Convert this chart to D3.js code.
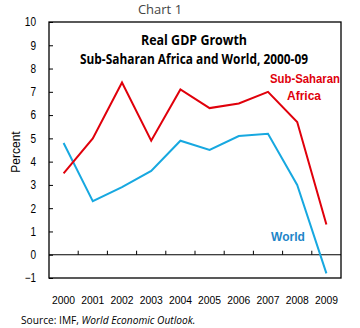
<!DOCTYPE html>
<html>
<head>
<meta charset="utf-8">
<script src="https://cdn.jsdelivr.net/npm/d3@7"></script>
<style>
  html, body { margin: 0; padding: 0; background: #fff; }
  svg { display: block; }
</style>
</head>
<body>
<script>
// Real GDP growth, percent
const years = ["2000","2001","2002","2003","2004","2005","2006","2007","2008","2009"];
const ssaGrowth = [3.5, 5.0, 7.4, 4.9, 7.1, 6.3, 6.5, 7.0, 5.7, 1.3];
const worldGrowth = [4.8, 2.3, 2.9, 3.6, 4.9, 4.5, 5.1, 5.2, 3.0, -0.8];
const yTicks = [-1, 0, 1, 2, 3, 4, 5, 6, 7, 8, 9, 10];

const W = 360, H = 328;
const m = { left: 49, right: 19, top: 22, bottom: 50 };
const iw = W - m.left - m.right, ih = H - m.top - m.bottom;

const svg = d3.select("body").append("svg").attr("width", W).attr("height", H)
  .style("font-family", "'Liberation Sans', Arial, sans-serif");

const x = d3.scaleBand().domain(years).range([m.left, m.left + iw]);
const y = d3.scaleLinear().domain([-1, 10]).range([m.top + ih, m.top]);
const cx = d => x(d) + x.bandwidth() / 2;

// frame
svg.append("rect").attr("x", m.left).attr("y", m.top).attr("width", iw).attr("height", ih)
  .attr("fill", "none").attr("stroke", "#000").attr("stroke-width", 1.3);

// y axis with inward ticks, narrow numerals
const yAxis = svg.append("g").attr("transform", `translate(${m.left},0)`)
  .call(d3.axisRight(y).tickValues(yTicks).tickSize(4).tickFormat(d3.format("d")));
yAxis.select(".domain").remove();
yAxis.selectAll("line").attr("stroke", "#000");
yAxis.selectAll("text").attr("x", -13).attr("text-anchor", "end")
  .attr("font-size", 12).attr("fill", "#000").attr("font-family", "'Liberation Sans', Arial, sans-serif")
  .attr("textLength", d => String(d).length * 5.6).attr("lengthAdjust", "spacingAndGlyphs");

// zero line with category boundary ticks
svg.append("line").attr("x1", m.left).attr("x2", m.left + iw)
  .attr("y1", y(0)).attr("y2", y(0)).attr("stroke", "#000").attr("stroke-width", 1.2);
svg.append("g").selectAll("line").data(years.slice(1)).join("line")
  .attr("x1", d => x(d)).attr("x2", d => x(d))
  .attr("y1", y(0)).attr("y2", y(0) - 4).attr("stroke", "#000");

// year labels
svg.append("g").selectAll("text").data(years).join("text")
  .attr("x", d => cx(d)).attr("y", m.top + ih + 26)
  .attr("text-anchor", "middle").attr("font-size", 11.5).attr("fill", "#000")
  .attr("textLength", 23).attr("lengthAdjust", "spacingAndGlyphs")
  .text(d => d);

// series lines
const line = d3.line().x((d, i) => cx(years[i])).y(d => y(d));
svg.append("path").datum(worldGrowth).attr("d", line)
  .attr("fill", "none").attr("stroke", "#17a8e0").attr("stroke-width", 2);
svg.append("path").datum(ssaGrowth).attr("d", line)
  .attr("fill", "none").attr("stroke", "#e0000b").attr("stroke-width", 2);

// titles
svg.append("text").attr("x", 160).attr("y", 14).attr("text-anchor", "middle")
  .attr("font-size", 13).attr("fill", "#444").attr("font-family", "'Open Sans', sans-serif")
  .text("Chart 1");
svg.append("text").attr("x", 194).attr("y", 45).attr("text-anchor", "middle")
  .attr("font-size", 13.5).attr("font-weight", "bold").attr("fill", "#000")
  .attr("font-family", "'Open Sans', sans-serif").attr("textLength", 106).attr("lengthAdjust", "spacingAndGlyphs")
  .text("Real GDP Growth");
svg.append("text").attr("x", 194).attr("y", 64).attr("text-anchor", "middle")
  .attr("font-size", 13.5).attr("font-weight", "bold").attr("fill", "#000")
  .attr("font-family", "'Open Sans', sans-serif").attr("textLength", 228).attr("lengthAdjust", "spacingAndGlyphs")
  .text("Sub-Saharan Africa and World, 2000-09");

// series labels
svg.append("text").attr("x", 305).attr("y", 83).attr("text-anchor", "middle")
  .attr("font-size", 12).attr("font-weight", "bold").attr("fill", "#e0000b")
  .attr("textLength", 70).attr("lengthAdjust", "spacingAndGlyphs")
  .text("Sub-Saharan");
svg.append("text").attr("x", 304).attr("y", 100).attr("text-anchor", "middle")
  .attr("font-size", 12).attr("font-weight", "bold").attr("fill", "#e0000b")
  .text("Africa");
svg.append("text").attr("x", 288).attr("y", 241).attr("text-anchor", "middle")
  .attr("font-size", 12).attr("font-weight", "bold").attr("fill", "#1f86c8")
  .text("World");

// y axis title
svg.append("text").attr("transform", `translate(20,152) rotate(-90)`)
  .attr("text-anchor", "middle").attr("font-size", 12).attr("fill", "#000")
  .text("Percent");

// source note
const src = svg.append("text").attr("x", 21).attr("y", 324)
  .attr("font-size", 10.2).attr("fill", "#000").attr("font-family", "'Open Sans', sans-serif");
src.append("tspan").text("Source: IMF, ");
src.append("tspan").attr("font-style", "italic").text("World Economic Outlook.");
</script>
</body>
</html>
